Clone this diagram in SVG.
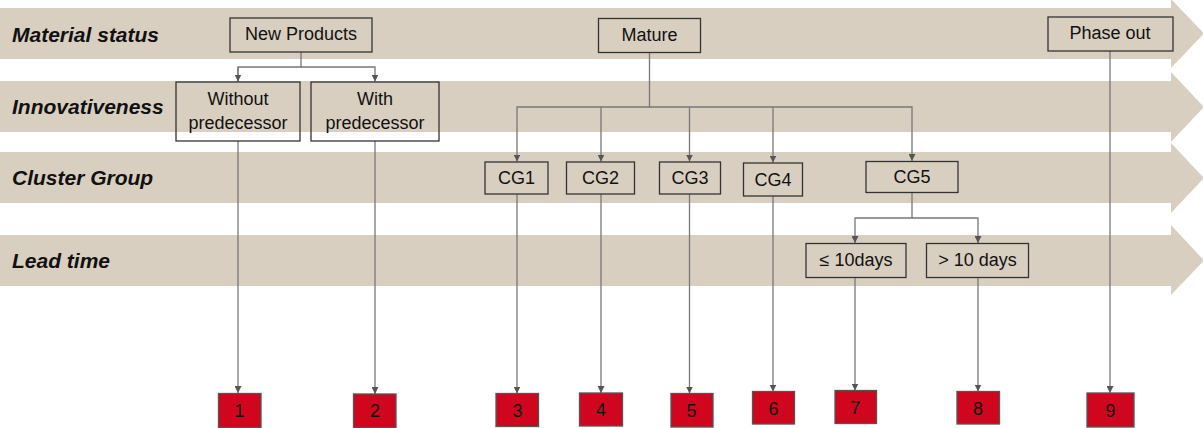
<svg xmlns="http://www.w3.org/2000/svg" width="1203" height="428" viewBox="0 0 1203 428">
<defs>
<style>
.band{fill:#d9cfc0}
.lbl{font-family:"Liberation Sans",Arial,sans-serif;font-weight:bold;font-style:italic;font-size:21px;fill:#111}
.box{fill:none;stroke:#333;stroke-width:1.3}
.t{font-family:"Liberation Sans",Arial,sans-serif;font-size:18px;fill:#111;text-anchor:middle}
.red{fill:#d0061e;stroke:#555;stroke-width:1.3}
.c{fill:none;stroke:#777;stroke-width:1.3}
</style>
<marker id="ah" viewBox="0 0 8 8" refX="8" refY="4" markerWidth="7" markerHeight="7" markerUnits="userSpaceOnUse" orient="auto">
<path d="M0,0 L8,4 L0,8 z" fill="#555"/>
</marker>
</defs>
<g id="bands">
<path class="band" d="M0,8 H1171 V-1 L1204,33.5 L1171,68 V59 H0 z"/>
<path class="band" d="M0,81 H1171 V72 L1204,107 L1171,142 V132 H0 z"/>
<path class="band" d="M0,152 H1171 V143 L1204,178 L1171,213 V203 H0 z"/>
<path class="band" d="M0,235 H1171 V225 L1204,260.5 L1171,295 V286 H0 z"/>
<text class="lbl" x="12" y="42">Material status</text>
<text class="lbl" x="12" y="114">Innovativeness</text>
<text class="lbl" x="12" y="185">Cluster Group</text>
<text class="lbl" x="12" y="268">Lead time</text>
</g>
<g id="connectors">
<path class="c" d="M301,52 V67 H238 V81.5"/>
<path class="c" d="M301,67 H375 V81.5" marker-end="url(#ah)"/>
<path class="c" d="M238,67 V81.5" marker-end="url(#ah)"/>
<path class="c" d="M649.5,53 V107 H517 V161.5" marker-end="url(#ah)"/>
<path class="c" d="M649.5,107 H912 V161" marker-end="url(#ah)"/>
<path class="c" d="M601,107 V161.5" marker-end="url(#ah)"/>
<path class="c" d="M689.5,107 V161.5" marker-end="url(#ah)"/>
<path class="c" d="M773,107 V162.5" marker-end="url(#ah)"/>
<path class="c" d="M912,193 V218 H855 V243" marker-end="url(#ah)"/>
<path class="c" d="M912,218 H978 V243" marker-end="url(#ah)"/>
<path class="c" d="M238,141 V393" marker-end="url(#ah)"/>
<path class="c" d="M375,141 V394" marker-end="url(#ah)"/>
<path class="c" d="M517,194 V393.5" marker-end="url(#ah)"/>
<path class="c" d="M601,194 V393" marker-end="url(#ah)"/>
<path class="c" d="M689.5,194 V393.5" marker-end="url(#ah)"/>
<path class="c" d="M773,196 V391.5" marker-end="url(#ah)"/>
<path class="c" d="M855,277 V390.5" marker-end="url(#ah)"/>
<path class="c" d="M978,277 V391.5" marker-end="url(#ah)"/>
<path class="c" d="M1110,51 V393" marker-end="url(#ah)"/>
</g>
<g id="new-products"><rect class="box" x="230" y="18" width="142" height="34"/><text class="t" x="301" y="40">New Products</text></g>
<g id="mature"><rect class="box" x="598.5" y="18.5" width="102" height="34"/><text class="t" x="649.5" y="41">Mature</text></g>
<g id="phase-out"><rect class="box" x="1048" y="17" width="125" height="34"/><text class="t" x="1110" y="39">Phase out</text></g>
<g id="without-predecessor"><rect class="box" x="176" y="82" width="124" height="59"/><text class="t" x="238" y="105">Without</text><text class="t" x="238" y="129">predecessor</text></g>
<g id="with-predecessor"><rect class="box" x="311" y="82" width="128" height="59"/><text class="t" x="375" y="105">With</text><text class="t" x="375" y="129">predecessor</text></g>
<g id="cg1"><rect class="box" x="485" y="162" width="63" height="32"/><text class="t" x="516.5" y="184">CG1</text></g>
<g id="cg2"><rect class="box" x="566.5" y="162" width="68" height="32"/><text class="t" x="600.5" y="184">CG2</text></g>
<g id="cg3"><rect class="box" x="659.5" y="162" width="61" height="32"/><text class="t" x="690" y="184">CG3</text></g>
<g id="cg4"><rect class="box" x="743.5" y="163" width="59" height="33"/><text class="t" x="773" y="185.5">CG4</text></g>
<g id="cg5"><rect class="box" x="866" y="161.5" width="92" height="31"/><text class="t" x="912" y="183">CG5</text></g>
<g id="le-10days"><rect class="box" x="806" y="243.5" width="100" height="34"/><text class="t" x="856" y="266">≤ 10days</text></g>
<g id="gt-10days"><rect class="box" x="926.5" y="243.5" width="102" height="34"/><text class="t" x="977.5" y="266">&gt; 10 days</text></g>
<g id="r1"><rect class="red" x="218.5" y="393.5" width="42.5" height="34"/><text class="t" x="239.5" y="416.5">1</text></g>
<g id="r2"><rect class="red" x="353.5" y="394" width="42.5" height="33.5"/><text class="t" x="375" y="417">2</text></g>
<g id="r3"><rect class="red" x="496" y="393.5" width="42.5" height="33"/><text class="t" x="517.5" y="416.5">3</text></g>
<g id="r4"><rect class="red" x="579.5" y="393" width="43" height="33"/><text class="t" x="601" y="416">4</text></g>
<g id="r5"><rect class="red" x="671" y="393.5" width="42" height="33.5"/><text class="t" x="691.5" y="416.5">5</text></g>
<g id="r6"><rect class="red" x="752.5" y="391.5" width="42" height="32.5"/><text class="t" x="773.5" y="414.5">6</text></g>
<g id="r7"><rect class="red" x="835" y="390.5" width="41.5" height="33"/><text class="t" x="855.5" y="413.5">7</text></g>
<g id="r8"><rect class="red" x="957" y="391.5" width="42.5" height="32.5"/><text class="t" x="978" y="414.5">8</text></g>
<g id="r9"><rect class="red" x="1087" y="393" width="47" height="34"/><text class="t" x="1110.5" y="416.5">9</text></g>
</svg>
